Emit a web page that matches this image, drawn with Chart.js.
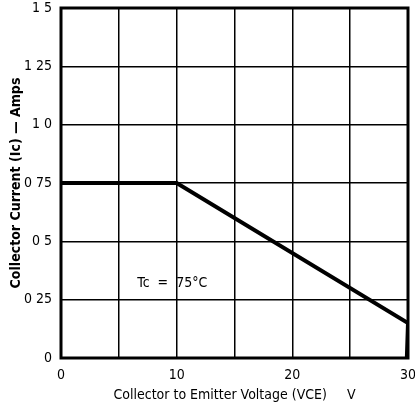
<!DOCTYPE html>
<html><head><meta charset="utf-8">
<script src="https://cdn.jsdelivr.net/npm/chart.js@4"></script>
<style>html,body{margin:0;padding:0;background:#fff}#w{width:415px;height:404px}</style>
</head><body><div id="w"><canvas id="c"></canvas></div>
<script>
const voltage = [0, 10, 30, 29.9];
const current = [0.75, 0.75, 0.15, 0];
const yTickLabels = {0:'0', 0.25:'0 25', 0.5:'0 5', 0.75:'0 75', 1:'1 0', 1.25:'1 25', 1.5:'1 5'};
const xTickLabels = {0:'0', 10:'10', 20:'20', 30:'30'};
const annotationText = 'Tc  =  75°C';
const annotationPos = {x: 6.6, y: 0.32};
const xTitle = 'Collector to Emitter Voltage (VCE)     V';
const yTitle = 'Collector Current (Ic) — Amps';

const FONT = "'Liberation Sans Narrow', 'DejaVu Sans Condensed', 'Liberation Sans', sans-serif";

const framePlugin = {
  id: 'frame',
  afterDraw(chart) {
    const {ctx, chartArea: a, scales} = chart;
    ctx.save();
    ctx.strokeStyle = '#000';
    ctx.lineWidth = 3;
    ctx.strokeRect(a.left, a.top, a.right - a.left, a.bottom - a.top);
    ctx.fillStyle = '#000';
    ctx.font = '14px ' + FONT;
    ctx.textAlign = 'left';
    ctx.textBaseline = 'middle';
    ctx.fillText(annotationText, scales.x.getPixelForValue(annotationPos.x), scales.y.getPixelForValue(annotationPos.y));
    ctx.restore();
  }
};

new Chart(document.getElementById('c'), {
  type: 'line',
  data: {
    datasets: [{
      data: voltage.map((v, i) => ({x: v, y: current[i]})),
      borderColor: '#000',
      borderWidth: 4,
      pointRadius: 0,
      tension: 0,
      fill: false
    }]
  },
  options: {
    responsive: true,
    maintainAspectRatio: false,
    animation: false,
    devicePixelRatio: 1,
    layout: {padding: {top: 8, right: 7, left: 0, bottom: 0}},
    plugins: {legend: {display: false}, tooltip: {enabled: false}},
    scales: {
      x: {
        type: 'linear', min: 0, max: 30,
        afterFit(s) { s.height = 46; s.paddingLeft = 0; s.paddingRight = 0; },
        grid: {color: '#000', lineWidth: 1.5, drawTicks: false},
        border: {display: false},
        ticks: {
          stepSize: 5, color: '#000', padding: 9, maxRotation: 0,
          font: {family: FONT, size: 14},
          callback: v => xTickLabels[v] !== undefined ? xTickLabels[v] : ''
        },
        title: {display: true, text: xTitle, color: '#000', font: {family: FONT, size: 14}, padding: {top: 0, bottom: 0}}
      },
      y: {
        type: 'linear', min: 0, max: 1.5,
        afterFit(s) { s.width = 61; s.paddingTop = 0; s.paddingBottom = 0; },
        grid: {color: '#000', lineWidth: 1.5, drawTicks: false},
        border: {display: false},
        ticks: {
          stepSize: 0.25, color: '#000', padding: 9,
          font: {family: FONT, size: 14},
          callback: v => yTickLabels[v] !== undefined ? yTickLabels[v] : ''
        },
        title: {display: true, text: yTitle, color: '#000', font: {family: FONT, size: 14, weight: 'bold'}, padding: {top: 8, bottom: 4}}
      }
    }
  },
  plugins: [framePlugin]
});
</script></body></html>
